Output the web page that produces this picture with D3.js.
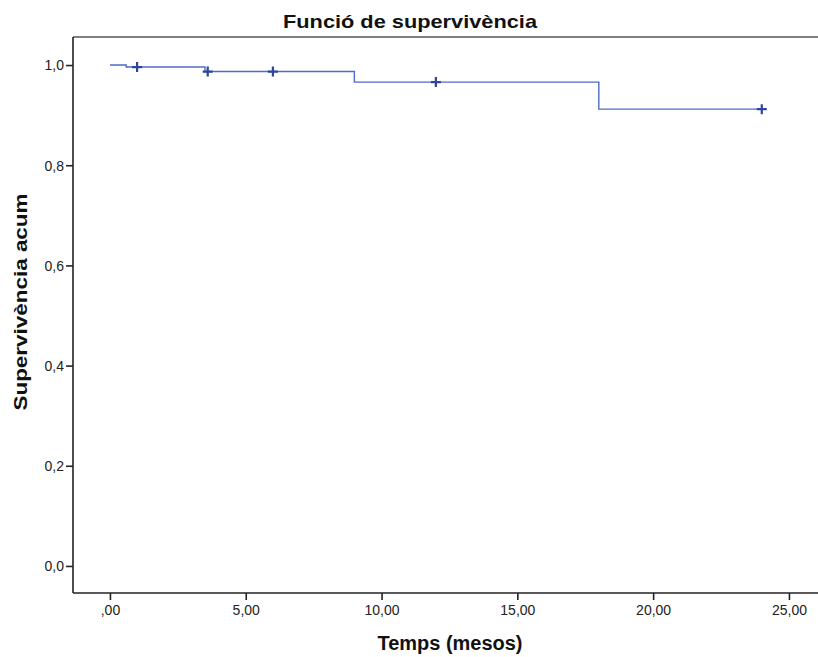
<!DOCTYPE html>
<html>
<head>
<meta charset="utf-8">
<script src="https://cdn.jsdelivr.net/npm/d3@7"></script>
<style>
  body { margin: 0; background: #fff; }
  svg { display: block; }
  .tick text { font-family: "Liberation Sans Narrow", "Liberation Sans", Arial, sans-serif; font-size: 14px; fill: #222; }
</style>
</head>
<body>
<div id="chart"></div>
<script>
// step function (Kaplan-Meier)
var stepTimes = [0, 0.6, 3.5, 9.0, 18.0, 24.0];
var survival = [1.0, 0.996, 0.987, 0.966, 0.912, 0.912];

// censored cases
var censorTimes = [1.0, 3.6, 6.0, 12.0, 24.0];
var censorSurv = [0.996, 0.987, 0.987, 0.966, 0.912];

var xTicks = [0, 5, 10, 15, 20, 25];
var xTickLabels = [",00", "5,00", "10,00", "15,00", "20,00", "25,00"];
var yTicks = [0, 0.2, 0.4, 0.6, 0.8, 1.0];
var yTickLabels = ["0,0", "0,2", "0,4", "0,6", "0,8", "1,0"];

var width = 818, height = 657;
var plotLeft = 73, plotTop = 37, plotRight = 818, plotBottom = 593;

var svg = d3.select("#chart").append("svg")
  .attr("width", width)
  .attr("height", height);

var x = d3.scaleLinear().domain([-1.36, 26.07]).range([plotLeft, plotRight]);
var y = d3.scaleLinear().domain([-0.054, 1.056]).range([plotBottom, plotTop]);

//top frame line
svg.append("line")
  .attr("x1", plotLeft).attr("x2", plotRight)
  .attr("y1", plotTop).attr("y2", plotTop)
  .attr("stroke", "#555").attr("stroke-width", 1.5);

//axes
var xAxis = svg.append("g")
  .attr("transform", "translate(0," + plotBottom + ")")
  .call(d3.axisBottom(x).tickValues(xTicks).tickSize(7).tickPadding(5)
    .tickFormat(function(d, i) { return xTickLabels[i]; }));
var yAxis = svg.append("g")
  .attr("transform", "translate(" + plotLeft + ",0)")
  .call(d3.axisLeft(y).tickValues(yTicks).tickSize(7).tickPadding(2)
    .tickFormat(function(d, i) { return yTickLabels[i]; }));

[xAxis, yAxis].forEach(function(a) {
  a.select(".domain").attr("stroke", "#222").attr("stroke-width", 1.6);
  a.selectAll(".tick line").attr("stroke", "#222").attr("stroke-width", 1.6);
});
xAxis.select(".domain").attr("d", "M" + plotLeft + ",0H" + plotRight);
yAxis.select(".domain").attr("d", "M0," + plotTop + "V" + plotBottom);
yAxis.selectAll(".tick text").attr("dy", "0.35em");

//survival curve
var pts = stepTimes.map(function(t, i) { return [t, survival[i]]; });
var line = d3.line()
  .x(function(d) { return x(d[0]); })
  .y(function(d) { return y(d[1]); })
  .curve(d3.curveStepAfter);

svg.append("path")
  .datum(pts)
  .attr("fill", "none")
  .attr("stroke", "#4d6cc6")
  .attr("stroke-width", 1.4)
  .attr("d", line);

//censor marks
var marks = svg.append("g").selectAll("g")
  .data(censorTimes)
  .enter()
  .append("g")
  .attr("transform", function(d, i) {
    return "translate(" + x(d) + "," + y(censorSurv[i]) + ")";
  });
marks.append("path")
  .attr("d", "M-5,0H5M0,-5V5")
  .attr("stroke", "#2c4699")
  .attr("stroke-width", 2.2)
  .attr("fill", "none");

//titles
svg.append("text")
  .attr("x", 410).attr("y", 28)
  .attr("text-anchor", "middle")
  .attr("textLength", 254)
  .attr("lengthAdjust", "spacingAndGlyphs")
  .style("font-family", "'Liberation Sans', Arial, sans-serif")
  .style("font-weight", "bold")
  .style("font-size", "19px")
  .attr("fill", "#111")
  .text("Funció de supervivència");

svg.append("text")
  .attr("x", 450).attr("y", 650)
  .attr("text-anchor", "middle")
  .attr("textLength", 145)
  .attr("lengthAdjust", "spacingAndGlyphs")
  .style("font-family", "'Liberation Sans', Arial, sans-serif")
  .style("font-weight", "bold")
  .style("font-size", "20px")
  .attr("fill", "#111")
  .text("Temps (mesos)");

svg.append("text")
  .attr("transform", "translate(27,302) rotate(-90)")
  .attr("text-anchor", "middle")
  .attr("textLength", 217)
  .attr("lengthAdjust", "spacingAndGlyphs")
  .style("font-family", "'Liberation Sans', Arial, sans-serif")
  .style("font-weight", "bold")
  .style("font-size", "18px")
  .attr("fill", "#111")
  .text("Supervivència acum");
</script>
</body>
</html>
